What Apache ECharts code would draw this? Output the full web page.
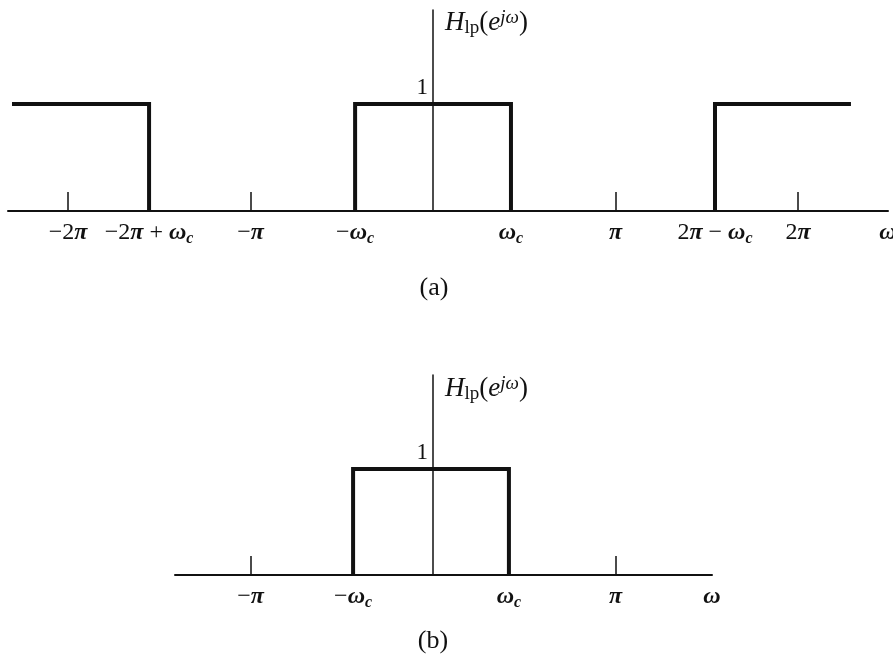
<!DOCTYPE html>
<html>
<head>
<meta charset="utf-8">
<script src="https://cdn.jsdelivr.net/npm/echarts@6/dist/echarts.min.js"></script>
<style>
html,body{margin:0;padding:0;background:#fff;}
#chart{width:893px;height:654px;}
</style>
</head>
<body>
<div id="chart"></div>
<script>
// Values in units of pi (omega / pi)
const topLeftBandX = [-2.307, -1.556, -1.556];
const topLeftBandY = [1, 1, 0];
const topMainBandX = [-0.427, -0.427, 0.427, 0.427];
const topMainBandY = [0, 1, 1, 0];
const topRightBandX = [1.545, 1.545, 2.290];
const topRightBandY = [0, 1, 1];
const bottomBandX = [-0.438, -0.438, 0.416, 0.416];
const bottomBandY = [0, 1, 1, 0];

const topRange = [-2.329, 2.493];
const bottomRange = [-1.414, 1.529];
const topTickValues = [-2, -1, 1, 2];
const topLabelValues = [-2, -1.556, -1, -0.427, 0.427, 1, 1.545, 2, 2.493];
const topLabelTexts = [
  '{m|−2}{g|π}',
  '{m|−2}{g|π}{m| + }{g|ω}{s|c}',
  '{m|−}{g|π}',
  '{m|−}{g|ω}{s|c}',
  '{g|ω}{s|c}',
  '{g|π}',
  '{m|2}{g|π}{m| − }{g|ω}{s|c}',
  '{m|2}{g|π}',
  '{g|ω}'
];
const bottomTickValues = [-1, 1];
const bottomLabelValues = [-1, -0.438, 0.416, 1, 1.529];
const bottomLabelTexts = [
  '{m|−}{g|π}',
  '{m|−}{g|ω}{s|c}',
  '{g|ω}{s|c}',
  '{g|π}',
  '{g|ω}'
];
const yLabelValues = [1];
const yLabelTexts = ['1'];
const axisTitle = '{H|H}{sub|lp}{n|(}{e|e}{sup|jω}{n|)}';
const panelTitles = ['(a)', '(b)'];

const SERIF = 'Liberation Serif, Times New Roman, serif';
const INK = '#111';

const labelRich = {
  m: {fontFamily: SERIF, fontWeight: 'normal', fontSize: 24, lineHeight: 28, color: INK},
  g: {fontFamily: SERIF, fontWeight: 'bold', fontStyle: 'italic', fontSize: 24, lineHeight: 28, color: INK},
  s: {fontFamily: SERIF, fontWeight: 'bold', fontStyle: 'italic', fontSize: 16, lineHeight: 11, verticalAlign: 'bottom', color: INK}
};
const nameRich = {
  H: {fontFamily: SERIF, fontStyle: 'italic', fontSize: 27, lineHeight: 30, color: INK},
  sub: {fontFamily: SERIF, fontSize: 19, lineHeight: 12, verticalAlign: 'bottom', color: INK},
  n: {fontFamily: SERIF, fontSize: 27, lineHeight: 30, color: INK},
  e: {fontFamily: SERIF, fontStyle: 'italic', fontSize: 27, lineHeight: 30, color: INK},
  sup: {fontFamily: SERIF, fontStyle: 'italic', fontSize: 19, lineHeight: 16, verticalAlign: 'top', color: INK}
};

function pick(values, texts) {
  return function (v) {
    let best = 0, d = Infinity;
    for (let i = 0; i < values.length; i++) {
      const dd = Math.abs(values[i] - v);
      if (dd < d) { d = dd; best = i; }
    }
    return texts[best];
  };
}

const grids = [
  {left: 8, top: 10, width: 880, height: 201},
  {left: 175, top: 375, width: 537, height: 200}
];

function makeX(gridIndex, range, ticks, labelVals, labelTexts) {
  return {
    type: 'value', gridIndex: gridIndex, min: range[0], max: range[1],
    axisLine: {show: true, onZero: false, lineStyle: {color: INK, width: 2}},
    axisTick: {show: true, inside: true, length: 19, customValues: ticks, lineStyle: {color: INK, width: 1.5}},
    axisLabel: {show: true, customValues: labelVals, margin: 8, formatter: pick(labelVals, labelTexts), rich: labelRich},
    splitLine: {show: false}
  };
}
function makeY(gridIndex, range, max, gap) {
  // place the vertical axis on omega = 0 of the matching x scale
  const zeroOffset = (0 - range[0]) / (range[1] - range[0]) * grids[gridIndex].width;
  return {
    type: 'value', gridIndex: gridIndex, min: 0, max: max, position: 'left', offset: -zeroOffset,
    axisLine: {show: true, onZero: false, lineStyle: {color: INK, width: 1.5}},
    axisTick: {show: false},
    splitLine: {show: false},
    axisLabel: {show: true, customValues: yLabelValues, formatter: pick(yLabelValues, yLabelTexts),
      margin: 5, verticalAlign: 'bottom', padding: [0, 0, 5, 0],
      fontFamily: SERIF, fontSize: 23, lineHeight: 23, color: INK},
    name: axisTitle, nameLocation: 'end', nameGap: gap,
    nameTextStyle: {align: 'left', verticalAlign: 'middle', padding: [0, 0, 0, 12], rich: nameRich}
  };
}
function band(xIdx, xs, ys) {
  return {
    type: 'line', xAxisIndex: xIdx, yAxisIndex: xIdx, symbol: 'none', silent: true, animation: false,
    lineStyle: {color: INK, width: 4, join: 'miter', cap: 'butt'},
    data: xs.map((x, i) => [x, ys[i]])
  };
}

const chart = echarts.init(document.getElementById('chart'), null, {renderer: 'canvas'});
chart.setOption({
  backgroundColor: '#fff',
  animation: false,
  title: [
    {text: panelTitles[0], left: 429, top: 268, textAlign: 'center',
      textStyle: {fontFamily: SERIF, fontWeight: 'normal', fontSize: 26, lineHeight: 30, color: INK}},
    {text: panelTitles[1], left: 428, top: 621, textAlign: 'center',
      textStyle: {fontFamily: SERIF, fontWeight: 'normal', fontSize: 26, lineHeight: 30, color: INK}}
  ],
  grid: grids.map(g => Object.assign({outerBoundsMode: 'none', containLabel: false}, g)),
  xAxis: [
    makeX(0, topRange, topTickValues, topLabelValues, topLabelTexts),
    makeX(1, bottomRange, bottomTickValues, bottomLabelValues, bottomLabelTexts)
  ],
  yAxis: [
    makeY(0, topRange, 1.879, -13),
    makeY(1, bottomRange, 1.887, -14)
  ],
  series: [
    band(0, topLeftBandX, topLeftBandY),
    band(0, topMainBandX, topMainBandY),
    band(0, topRightBandX, topRightBandY),
    band(1, bottomBandX, bottomBandY)
  ]
});
</script>
</body>
</html>
